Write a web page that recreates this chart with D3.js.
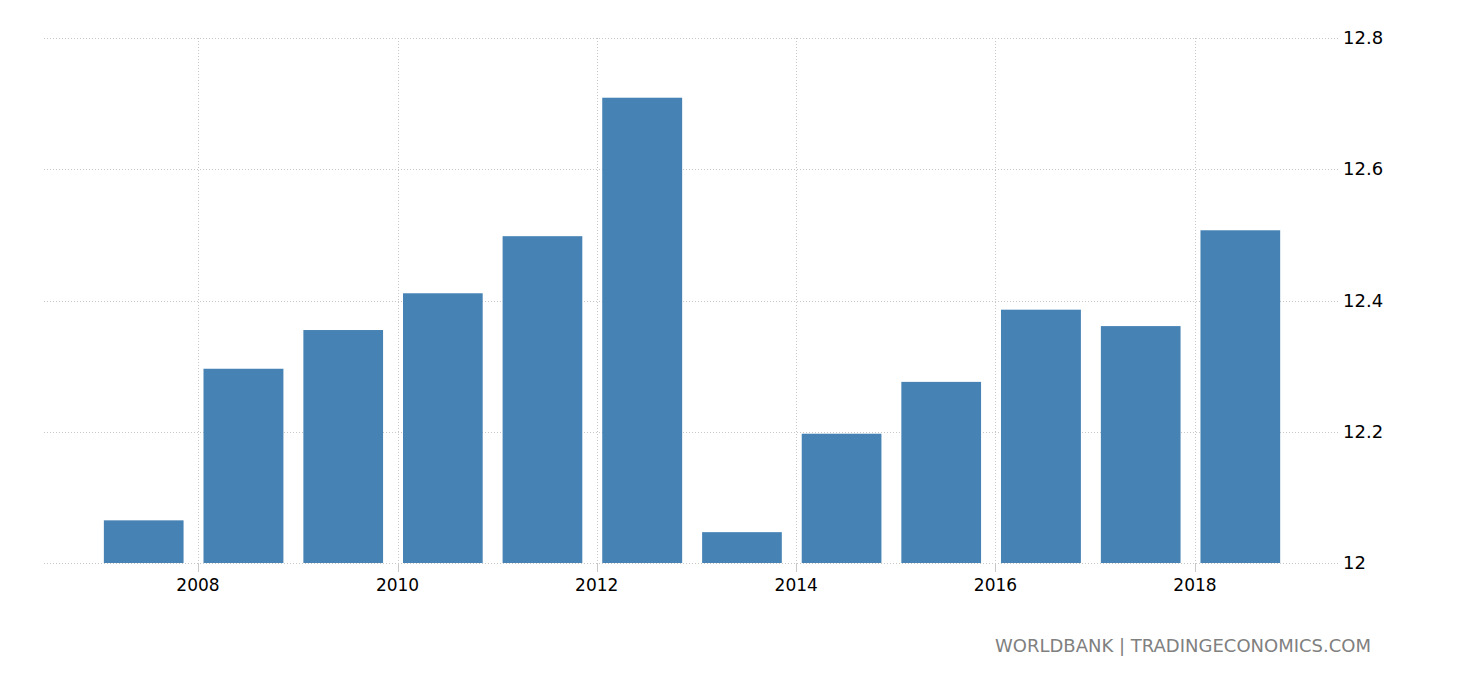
<!DOCTYPE html>
<html>
<head>
<meta charset="utf-8">
<script src="https://cdn.jsdelivr.net/npm/d3@7"></script>
<style>
  html, body { margin: 0; padding: 0; background: #fff; }
  svg { display: block; }
</style>
</head>
<body>
<svg id="chart" width="1460" height="680"></svg>
<script>
const years = [2007, 2008, 2009, 2010, 2011, 2012, 2013, 2014, 2015, 2016, 2017, 2018];
const values = [12.065, 12.296, 12.355, 12.411, 12.498, 12.709, 12.047, 12.197, 12.276, 12.386, 12.361, 12.507];
const yTicks = [12, 12.2, 12.4, 12.6, 12.8];
const yTickLabels = ["12", "12.2", "12.4", "12.6", "12.8"];
const xTickYears = [2008, 2010, 2012, 2014, 2016, 2018];
const sourceText = "WORLDBANK | TRADINGECONOMICS.COM";

const svg = d3.select("#chart");
const plotLeft = 44, plotRight = 1338, plotTop = 38, plotBottom = 563;

const x = d3.scaleTime()
  .domain([new Date(2008, 0, 1), new Date(2018, 0, 1)])
  .range([198, 1195]);
const y = d3.scaleLinear().domain([12, 12.8]).range([plotBottom, plotTop]);

const gridColor = "#c8c8c8";
const font = "DejaVu Sans, Verdana, sans-serif";

// horizontal grid
svg.append("g").selectAll("line").data(yTicks).join("line")
  .attr("x1", plotLeft).attr("x2", plotRight)
  .attr("y1", d => Math.round(y(d)) + 0.5).attr("y2", d => Math.round(y(d)) + 0.5)
  .attr("stroke", gridColor).attr("stroke-width", 1)
  .attr("stroke-dasharray", "1,2");

// vertical grid
svg.append("g").selectAll("line").data(xTickYears).join("line")
  .attr("x1", d => Math.round(x(new Date(d, 0, 1))) + 0.5)
  .attr("x2", d => Math.round(x(new Date(d, 0, 1))) + 0.5)
  .attr("y1", plotTop).attr("y2", plotBottom)
  .attr("stroke", gridColor).attr("stroke-width", 1)
  .attr("stroke-dasharray", "1,2");

// bars
svg.append("g").selectAll("rect").data(years).join("rect")
  .attr("x", (d) => {
    const x0 = x(new Date(d, 0, 1)), x1 = x(new Date(d + 1, 0, 1));
    return x0 + (x1 - x0) * 0.055;
  })
  .attr("width", (d) => {
    const x0 = x(new Date(d, 0, 1)), x1 = x(new Date(d + 1, 0, 1));
    return (x1 - x0) * 0.8;
  })
  .attr("y", (d, i) => y(values[i]))
  .attr("height", (d, i) => y(12) - y(values[i]))
  .attr("fill", "#4682b4");

// x tick marks
svg.append("g").selectAll("line").data(xTickYears).join("line")
  .attr("x1", d => Math.round(x(new Date(d, 0, 1))) + 0.5)
  .attr("x2", d => Math.round(x(new Date(d, 0, 1))) + 0.5)
  .attr("y1", plotBottom).attr("y2", plotBottom + 9)
  .attr("stroke", gridColor).attr("stroke-width", 1);

// x labels
svg.append("g").selectAll("text").data(xTickYears).join("text")
  .attr("x", d => x(new Date(d, 0, 1)))
  .attr("y", 591)
  .attr("text-anchor", "middle")
  .attr("font-family", font)
  .attr("font-size", 17)
  .attr("fill", "#000")
  .text(d => d);

// y labels
svg.append("g").selectAll("text").data(yTicks).join("text")
  .attr("x", 1343)
  .attr("y", d => y(d) + 6)
  .attr("text-anchor", "start")
  .attr("font-family", font)
  .attr("font-size", 18)
  .attr("fill", "#000")
  .text((d, i) => yTickLabels[i]);

// source
svg.append("text")
  .attr("x", 1371).attr("y", 652)
  .attr("text-anchor", "end")
  .attr("font-family", font)
  .attr("font-size", 18)
  .attr("fill", "#808080")
  .text(sourceText);
</script>
</body>
</html>
